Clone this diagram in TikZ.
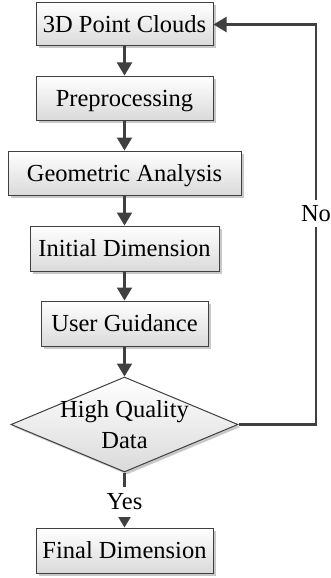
\documentclass[tikz,border=0pt]{standalone}
\usepackage{fontspec}
\setmainfont{Liberation Serif}
\usetikzlibrary{arrows.meta,shapes.geometric,shadows}
\definecolor{edgec}{RGB}{64,64,64}
\definecolor{boxbot}{RGB}{218,218,218}
\definecolor{shadowc}{RGB}{200,200,200}
\begin{document}
\begin{tikzpicture}[x=1pt,y=-1pt,
  txt/.style={font=\fontsize{24.5}{28}\selectfont, text=black},
  box/.style={txt, draw=edgec, line width=1pt, top color=white, bottom color=boxbot,
    drop shadow={shadow xshift=2.5pt, shadow yshift=-2.5pt, fill=shadowc, opacity=1},
    inner sep=0pt, text height=16pt, text depth=0pt},
  dec/.style={diamond, draw=edgec, line width=1pt, top color=white, bottom color=boxbot,
    drop shadow={shadow xshift=2.5pt, shadow yshift=-2.5pt, fill=shadowc, opacity=1},
    inner sep=0pt, minimum width=227pt, minimum height=95pt, aspect=2.39},
  arr/.style={draw=edgec, line width=2.2pt, -{Triangle[width=15pt,length=13pt]}},
  lbl/.style={txt, fill=white, inner sep=0pt, text height=16pt, text depth=0pt}
]
\path[use as bounding box, fill=white] (0,0) rectangle (331,578);

\node[box, minimum width=177pt, minimum height=43pt] (b1) at (124.5,24.5) {3D Point Clouds};
\node[box, minimum width=177pt, minimum height=44pt] (b2) at (124.5,98) {Preprocessing};
\node[box, minimum width=233pt, minimum height=44pt] (b3) at (124.5,173) {Geometric Analysis};
\node[box, minimum width=189pt, minimum height=45pt] (b4) at (124.5,248.5) {Initial Dimension};
\node[box, minimum width=167pt, minimum height=45pt] (b5) at (124.5,323.5) {User Guidance};
\node[dec] (d) at (124.5,424.5) {};
\node[txt, anchor=base] (dt1) at (124.5,417) {High Quality};
\node[txt, anchor=base] (dt2) at (124.5,448) {Data};
\node[box, minimum width=177pt, minimum height=45pt] (fin) at (124.5,550.5) {Final Dimension};

\draw[arr] (b1) -- (b2);
\draw[arr] (b2) -- (b3);
\draw[arr] (b3) -- (b4);
\draw[arr] (b4) -- (b5);
\draw[arr] (b5) -- (d);
\coordinate (loopc) at (316,424.5);
\draw[arr] (d.east) -- (loopc) |- (b1.east);
\draw[arr] (d.south) -- (fin.north);
\node[lbl, minimum height=27pt] (no) at (316,213.5) {No};
\node[lbl, minimum height=30pt] (yes) at (124.5,501.5) {Yes};
\end{tikzpicture}
\end{document}
